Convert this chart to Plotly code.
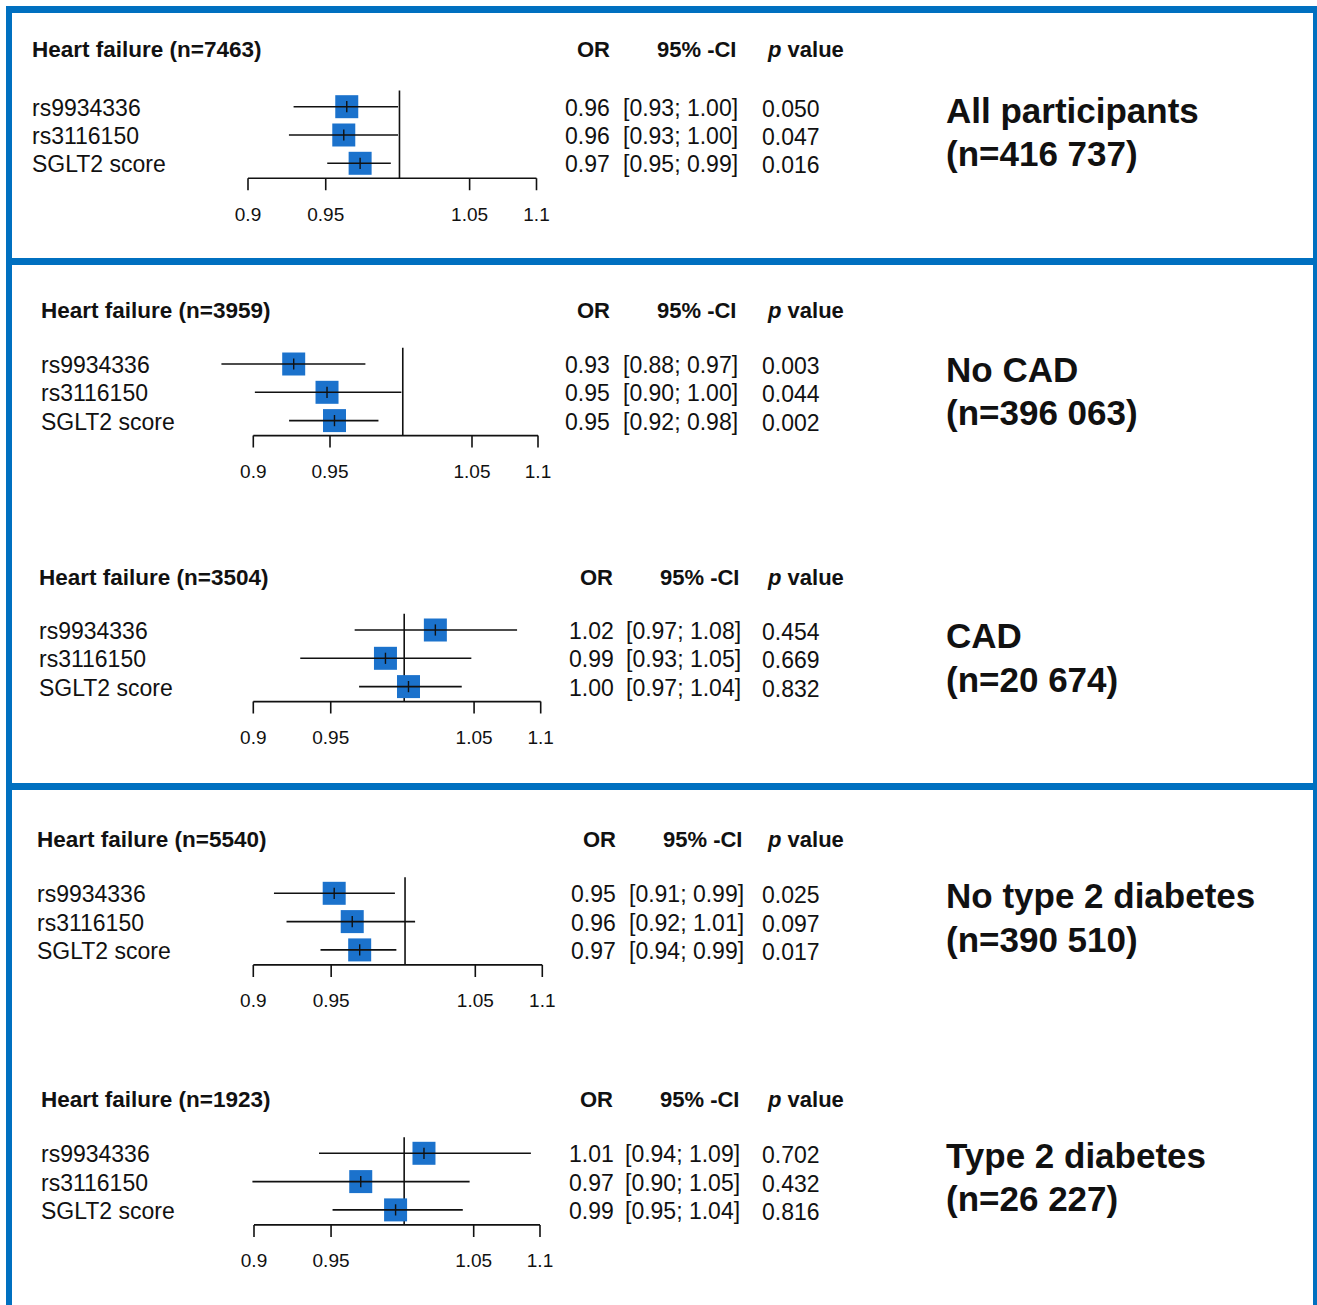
import math
import plotly.graph_objects as go

# ---------------- data ----------------
snp_labels = ["rs9934336", "rs3116150", "SGLT2 score"]
hf_cases = [7463, 3959, 3504, 5540, 1923]
group_names = ["All participants", "No CAD", "CAD", "No type 2 diabetes", "Type 2 diabetes"]
group_sizes = ["416 737", "396 063", "20 674", "390 510", "26 227"]

or_all = [0.964, 0.962, 0.973]
lo_all = [0.929, 0.926, 0.951]
hi_all = [0.999, 0.999, 0.994]
p_all = [0.050, 0.047, 0.016]

or_nocad = [0.926, 0.948, 0.953]
lo_nocad = [0.880, 0.901, 0.923]
hi_nocad = [0.974, 0.999, 0.983]
p_nocad = [0.003, 0.044, 0.002]

or_cad = [1.022, 0.987, 1.003]
lo_cad = [0.966, 0.930, 0.969]
hi_cad = [1.082, 1.048, 1.041]
p_cad = [0.454, 0.669, 0.832]

or_not2d = [0.952, 0.964, 0.969]
lo_not2d = [0.913, 0.921, 0.943]
hi_not2d = [0.993, 1.007, 0.994]
p_not2d = [0.025, 0.097, 0.017]

or_t2d = [1.014, 0.970, 0.994]
lo_t2d = [0.942, 0.899, 0.951]
hi_t2d = [1.093, 1.047, 1.042]
p_t2d = [0.702, 0.432, 0.816]

tick_vals = [0.9, 0.95, 1.05, 1.1]
tick_labels = ["0.9", "0.95", "1.05", "1.1"]
ref_value = 1.0

panel_or = [or_all, or_nocad, or_cad, or_not2d, or_t2d]
panel_lo = [lo_all, lo_nocad, lo_cad, lo_not2d, lo_t2d]
panel_hi = [hi_all, hi_nocad, hi_cad, hi_not2d, hi_t2d]
panel_p = [p_all, p_nocad, p_cad, p_not2d, p_t2d]

# ---------------- layout geometry (pixels) ----------------
W, H = 1317, 1305
ROW_SP = 28.3
Y_RANGE = (-1.3, 3.75)
X_RANGE = (0.86, 1.13)
ROW_Y = [3, 2, 1]
AXIS_Y = 0.47
REF_TOP = 3.57
TICK_LEN = 12 / ROW_SP
TICKLAB_Y = -0.86

geom = [
    dict(row1=106.7, x09=248.0, x11=536.5, tx=32, ty=50, or_x=565, ci_x=738, p_x=762, hdr=(593, 697, 805), grp_y=(111, 154)),
    dict(row1=364.0, x09=253.3, x11=538.0, tx=41, ty=310, or_x=565, ci_x=738, p_x=762, hdr=(593, 697, 805), grp_y=(370, 413)),
    dict(row1=630.0, x09=253.3, x11=540.7, tx=39, ty=577, or_x=569, ci_x=741, p_x=762, hdr=(596, 700, 805), grp_y=(636, 679)),
    dict(row1=893.3, x09=253.3, x11=542.3, tx=37, ty=839, or_x=571, ci_x=744, p_x=762, hdr=(599, 703, 805), grp_y=(896, 939)),
    dict(row1=1153.3, x09=254.0, x11=540.0, tx=41, ty=1099, or_x=569, ci_x=740, p_x=762, hdr=(596, 699, 805), grp_y=(1155, 1198)),
]
TEXT_PAD = 2  # annotation inner padding compensation (px)

FONT = "Liberation Sans, Arial, Helvetica, sans-serif"
BLUE_FRAME = "#0070C0"
BLUE_BOX = "#1B72CC"
BLACK = "#111111"


def px(x):
    return x / W


def py(y):
    return 1 - y / H


fig = go.Figure()
layout_axes = {}
annotations = []

for i, g in enumerate(geom):
    n = i + 1
    xa = "x" if n == 1 else f"x{n}"
    ya = "y" if n == 1 else f"y{n}"
    xkey = "xaxis" if n == 1 else f"xaxis{n}"
    ykey = "yaxis" if n == 1 else f"yaxis{n}"

    k = (g["x11"] - g["x09"]) / math.log(1.1 / 0.9)
    left_px = g["x09"] + k * math.log(X_RANGE[0] / 0.9)
    right_px = g["x09"] + k * math.log(X_RANGE[1] / 0.9)
    top_px = g["row1"] - (Y_RANGE[1] - 3) * ROW_SP
    bot_px = g["row1"] + (3 - Y_RANGE[0]) * ROW_SP

    layout_axes[xkey] = dict(type="log", range=[math.log10(X_RANGE[0]), math.log10(X_RANGE[1])],
                             domain=[px(left_px), px(right_px)], visible=False, anchor=ya,
                             fixedrange=True)
    layout_axes[ykey] = dict(range=list(Y_RANGE), domain=[py(bot_px), py(top_px)], visible=False,
                             anchor=xa, fixedrange=True)

    ors, los, his, ps = panel_or[i], panel_lo[i], panel_hi[i], panel_p[i]

    # reference line at OR = 1
    fig.add_trace(go.Scatter(x=[ref_value, ref_value], y=[AXIS_Y, REF_TOP], mode="lines",
                             line=dict(color=BLACK, width=1.6), xaxis=xa, yaxis=ya,
                             hoverinfo="skip", showlegend=False))
    # axis line
    fig.add_trace(go.Scatter(x=[tick_vals[0], tick_vals[-1]], y=[AXIS_Y, AXIS_Y], mode="lines",
                             line=dict(color=BLACK, width=1.6), xaxis=xa, yaxis=ya,
                             hoverinfo="skip", showlegend=False))
    # tick marks
    tx, ty = [], []
    for v in tick_vals:
        tx += [v, v, None]
        ty += [AXIS_Y, AXIS_Y - TICK_LEN, None]
    fig.add_trace(go.Scatter(x=tx, y=ty, mode="lines", line=dict(color=BLACK, width=1.6),
                             xaxis=xa, yaxis=ya, hoverinfo="skip", showlegend=False))
    # tick labels
    fig.add_trace(go.Scatter(x=tick_vals, y=[TICKLAB_Y] * len(tick_vals), mode="text",
                             text=tick_labels, textfont=dict(family=FONT, size=19, color=BLACK),
                             textposition="middle center", xaxis=xa, yaxis=ya,
                             hoverinfo="skip", showlegend=False, cliponaxis=False))
    # squares
    fig.add_trace(go.Scatter(x=ors, y=ROW_Y, mode="markers",
                             marker=dict(symbol="square", size=23, color=BLUE_BOX, line=dict(width=0)),
                             xaxis=xa, yaxis=ya, showlegend=False, cliponaxis=False))
    # CI lines
    cx, cy = [], []
    for lo, hi, yv in zip(los, his, ROW_Y):
        cx += [lo, hi, None]
        cy += [yv, yv, None]
    fig.add_trace(go.Scatter(x=cx, y=cy, mode="lines", line=dict(color=BLACK, width=1.6),
                             xaxis=xa, yaxis=ya, hoverinfo="skip", showlegend=False))
    # centre ticks
    fig.add_trace(go.Scatter(x=ors, y=ROW_Y, mode="markers",
                             marker=dict(symbol="line-ns", size=8, line=dict(width=1.4, color=BLACK)),
                             xaxis=xa, yaxis=ya, hoverinfo="skip", showlegend=False, cliponaxis=False))

    # title
    annotations.append(dict(x=px(g["tx"] - TEXT_PAD), y=py(g["ty"]), xref="paper", yref="paper",
                            text=f"<b>Heart failure (n={hf_cases[i]})</b>", showarrow=False,
                            xanchor="left", yanchor="middle",
                            font=dict(family=FONT, size=22.5, color=BLACK)))
    # headers
    for hx, htxt in zip(g["hdr"], ["<b>OR</b>", "<b>95% -CI</b>", "<b><i>p</i> value</b>"]):
        annotations.append(dict(x=px(hx), y=py(g["ty"]), xref="paper", yref="paper", text=htxt,
                                showarrow=False, xanchor="center", yanchor="middle",
                                font=dict(family=FONT, size=22, color=BLACK)))
    # rows
    for lab, o, lo, hi, p, yv in zip(snp_labels, ors, los, his, ps, ROW_Y):
        common = dict(xref="paper", yref=ya, y=yv, showarrow=False, yanchor="middle", yshift=-1,
                      font=dict(family=FONT, size=23, color=BLACK))
        annotations.append(dict(x=px(g["tx"] - TEXT_PAD), text=lab, xanchor="left", **common))
        annotations.append(dict(x=px(g["or_x"] - TEXT_PAD), text=f"{o:.2f}", xanchor="left", **common))
        annotations.append(dict(x=px(g["ci_x"] + TEXT_PAD), text=f"[{lo:.2f}; {hi:.2f}]", xanchor="right", **common))
        pc = dict(common)
        pc["yshift"] = -2
        annotations.append(dict(x=px(g["p_x"] - TEXT_PAD), text=f"{p:.3f}", xanchor="left", **pc))
    # group label (two lines)
    for gy, gtxt in zip(g["grp_y"], [group_names[i], f"(n={group_sizes[i]})"]):
        annotations.append(dict(x=px(947 - TEXT_PAD - 1), y=py(gy), xref="paper", yref="paper",
                                text=f"<b>{gtxt}</b>", showarrow=False, xanchor="left",
                                yanchor="middle", align="left",
                                font=dict(family=FONT, size=35, color=BLACK)))

# blue frames
shapes = []
frame_rects = [
    (6, 6, 12, H + 10),       # left
    (6, 6, W + 10, 13),       # top
    (1313, 6, W + 10, H + 10),  # right
    (6, 258, W + 10, 265),    # divider 1
    (6, 783, W + 10, 790),    # divider 2
]
for x0, y0, x1, y1 in frame_rects:
    shapes.append(dict(type="rect", xref="paper", yref="paper", x0=px(x0), x1=px(x1),
                       y0=py(y1), y1=py(y0), fillcolor=BLUE_FRAME, line=dict(width=0), layer="above"))

fig.update_layout(width=W, height=H, autosize=False, margin=dict(l=0, r=0, t=0, b=0),
                  paper_bgcolor="white", plot_bgcolor="rgba(0,0,0,0)",
                  showlegend=False, annotations=annotations, shapes=shapes,
                  font=dict(family=FONT, color=BLACK), **layout_axes)

fig.write_html("out.html", config={"displayModeBar": False},
               post_script="document.body.style.margin='0px';document.body.style.overflow='hidden';")
